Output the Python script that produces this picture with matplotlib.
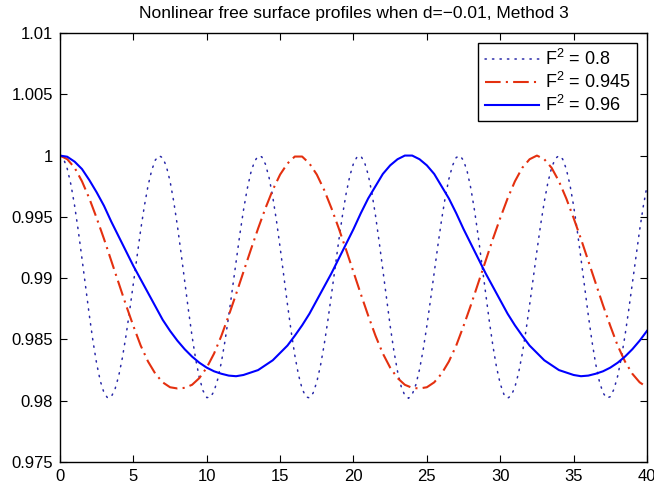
import numpy as np
import matplotlib
matplotlib.use('Agg')
import matplotlib.pyplot as plt

plt.rcParams['font.family'] = ['Liberation Sans', 'DejaVu Sans']
plt.rcParams['mathtext.fontset'] = 'custom'
plt.rcParams['mathtext.rm'] = 'Liberation Sans'
plt.rcParams['mathtext.it'] = 'Liberation Sans:italic'

# free surface profiles
# F^2 = 0.8, sampled every 0.25 from x=0 to 40
y_f08 = [
    1.00000, 0.99972, 0.99891, 0.99761, 0.99589, 0.99385, 0.99159, 0.98926,
    0.98697, 0.98485, 0.98302, 0.98160, 0.98065, 0.98022, 0.98033, 0.98094,
    0.98201, 0.98349, 0.98531, 0.98737, 0.98956, 0.99179, 0.99394, 0.99588,
    0.99753, 0.99880, 0.99964, 0.99999,
    0.99982, 0.99912, 0.99791, 0.99626, 0.99428, 0.99206, 0.98973, 0.98742,
    0.98526, 0.98337, 0.98186, 0.98081, 0.98026, 0.98027, 0.98078, 0.98176,
    0.98315, 0.98492, 0.98694, 0.98912, 0.99135, 0.99352, 0.99551, 0.99723,
    0.99858, 0.99951, 0.99996,
    0.99990, 0.99930, 0.99819, 0.99662, 0.99470, 0.99251, 0.99019, 0.98787,
    0.98568, 0.98372, 0.98212, 0.98098, 0.98032, 0.98023, 0.98063, 0.98153,
    0.98286, 0.98455, 0.98652, 0.98867, 0.99090, 0.99309, 0.99513, 0.99691,
    0.99834, 0.99936, 0.99991,
    0.99996, 0.99946, 0.99845, 0.99697, 0.99511, 0.99296, 0.99066, 0.98833,
    0.98610, 0.98408, 0.98240, 0.98116, 0.98042, 0.98020, 0.98051, 0.98131,
    0.98255, 0.98417, 0.98611, 0.98824, 0.99046, 0.99266, 0.99474, 0.99658,
    0.99809, 0.99919, 0.99984,
    0.99999, 0.99960, 0.99869, 0.99730, 0.99550, 0.99341, 0.99113, 0.98879,
    0.98653, 0.98447, 0.98271, 0.98138, 0.98052, 0.98020, 0.98042, 0.98112,
    0.98227, 0.98383, 0.98570, 0.98780, 0.99001, 0.99223, 0.99434, 0.99623,
    0.99782, 0.99901, 0.99975,
    1.00000, 0.99972, 0.99891, 0.99761, 0.99589, 0.99385, 0.99159, 0.98926,
    0.98697, 0.98485, 0.98302, 0.98160, 0.98065, 0.98022, 0.98033, 0.98094,
    0.98201, 0.98349, 0.98531, 0.98737, 0.98956, 0.99179, 0.99394, 0.99588,
    0.99753,
]

# F^2 = 0.945, sampled every 0.5
y_f0945 = [
    1.0000, 0.9997, 0.9990, 0.9979, 0.9965, 0.9949, 0.9932, 0.9914, 0.9896, 0.9878,
    0.9861, 0.9845, 0.9832, 0.9822, 0.9815, 0.9811, 0.9810, 0.98105, 0.9813, 0.98185,
    0.9827, 0.98385, 0.9853, 0.98695, 0.9887, 0.9905, 0.9923, 0.99405, 0.9957, 0.9972,
    0.99845, 0.99935, 0.99992, 0.99992, 0.99935, 0.99845, 0.9972, 0.9957, 0.99405, 0.9923,
    0.9905, 0.9887, 0.98695, 0.9853, 0.98385, 0.9827, 0.98185, 0.9813, 0.98105, 0.9810,
    0.9811, 0.9815, 0.9822, 0.9832, 0.9845, 0.9861, 0.9878, 0.9896, 0.9914, 0.9932,
    0.9949, 0.9965, 0.9979, 0.9990, 0.9997, 1.0000, 0.9997, 0.9990, 0.9979, 0.9965,
    0.9949, 0.9932, 0.9914, 0.9896, 0.9878, 0.9861, 0.9845, 0.9832, 0.9822, 0.9815,
    0.9811,
]

# F^2 = 0.96, sampled every 0.5
y_f096 = [
    1.0000, 0.9999, 0.9995, 0.9989, 0.9980, 0.9970, 0.9959, 0.9946, 0.9934, 0.9922,
    0.9910, 0.9899, 0.9888, 0.9877, 0.9866, 0.9857, 0.9849, 0.9842, 0.9836, 0.9831,
    0.9827, 0.9824, 0.9822, 0.98205, 0.9820, 0.9821, 0.9823, 0.9825, 0.9829, 0.9833,
    0.9839, 0.9845, 0.9853, 0.98615, 0.9871, 0.9882, 0.9893, 0.9904, 0.9916, 0.9928,
    0.9940, 0.9953, 0.9965, 0.9975, 0.9985, 0.9992, 0.9997, 1.0000, 1.0000, 0.9997,
    0.9992, 0.9985, 0.9975, 0.9965, 0.9953, 0.9940, 0.9928, 0.9916, 0.9904, 0.9893,
    0.9882, 0.9871, 0.98615, 0.9853, 0.9845, 0.9839, 0.9833, 0.9829, 0.9825, 0.9823,
    0.9821, 0.9820, 0.98205, 0.9822, 0.9824, 0.9827, 0.9831, 0.9836, 0.9842, 0.9849,
    0.9857,
]

labels = [r'F$^2$ = 0.8', r'F$^2$ = 0.945', r'F$^2$ = 0.96']
xticks = [0, 5, 10, 15, 20, 25, 30, 35, 40]
yticks = [0.975, 0.98, 0.985, 0.99, 0.995, 1.0, 1.005, 1.01]
ytick_labels = ['0.975', '0.98', '0.985', '0.99', '0.995', '1', '1.005', '1.01']

fig = plt.figure(figsize=(6.54, 4.9), dpi=100)
ax = fig.add_axes([0.0917, 0.0571, 0.8976, 0.8756])

ax.plot(np.linspace(0, 40, len(y_f08)), y_f08, color='#2828a8', lw=1.1,
        linestyle=(0, (0.9, 4.0)), dash_capstyle='round', label=labels[0])
ax.plot(np.linspace(0, 40, len(y_f0945)), y_f0945, color='#e4300f', lw=1.5,
        linestyle=(0, (7.5, 2.5, 1, 2.5)), label=labels[1])
ax.plot(np.linspace(0, 40, len(y_f096)), y_f096, color='#0000ff', lw=1.5,
        label=labels[2])

ax.set_xlim(0, 40)
ax.set_ylim(0.975, 1.01)
ax.set_xticks(xticks)
ax.set_yticks(yticks)
ax.set_yticklabels(ytick_labels)
ax.tick_params(direction='in', top=True, right=True, length=5, width=0.8,
               labelsize=12, pad=5)
for s in ax.spines.values():
    s.set_linewidth(1.0)

ax.set_title('Nonlinear free surface profiles when d=\u22120.01, Method 3',
             fontsize=12.5, pad=11)

leg = ax.legend(loc='upper right', fontsize=13, handlelength=3.0,
                handletextpad=0.35, fancybox=False, framealpha=1,
                edgecolor='black', borderaxespad=0.55, labelspacing=0.15,
                borderpad=0.35)
leg.get_frame().set_linewidth(1.0)

fig.savefig('out.png', dpi=100)
